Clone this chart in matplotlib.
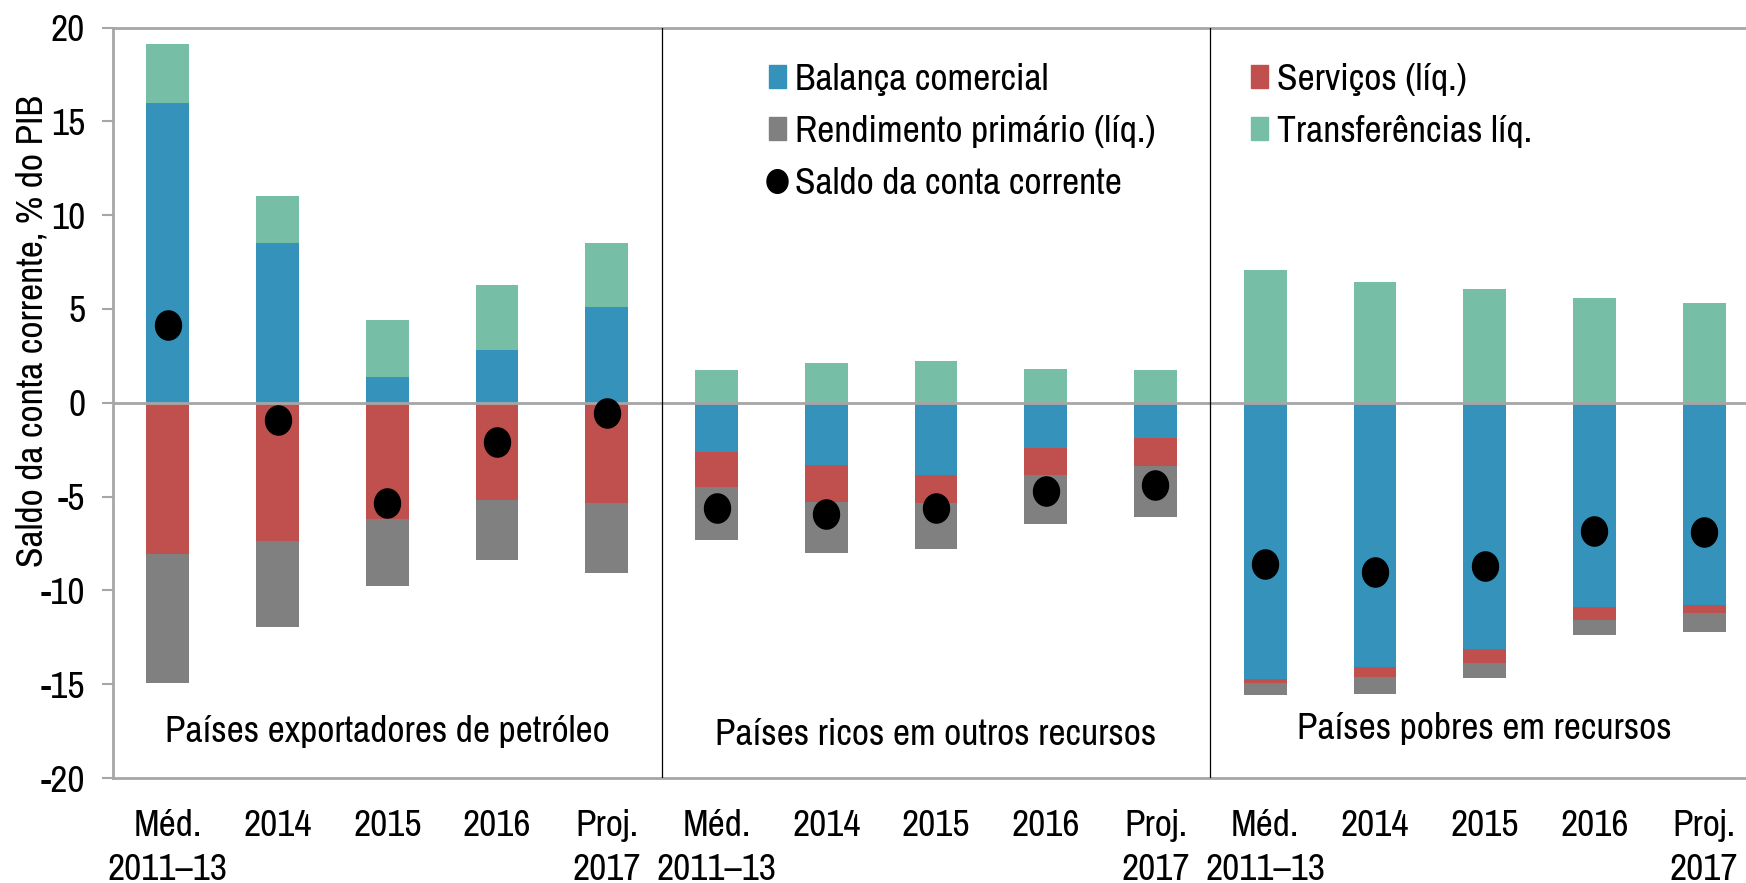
import numpy as np
import matplotlib
matplotlib.use("Agg")
import matplotlib.pyplot as plt
from matplotlib import font_manager
from matplotlib.path import Path
from matplotlib.patches import Patch
from matplotlib.lines import Line2D

# ── Data (% do PIB) ───────────────────────────────────────────────────────────
periods = ["Méd.\n2011–13", "2014", "2015", "2016", "Proj.\n2017"]
groups = ["Países exportadores de petróleo",
          "Países ricos em outros recursos",
          "Países pobres em recursos"]

balanca = [16.0, 8.5, 1.35, 2.8, 5.1,
           -2.6, -3.3, -3.85, -2.4, -1.9,
           -14.75, -14.1, -13.1, -10.9, -10.8]
servicos = [-8.05, -7.35, -6.2, -5.2, -5.35,
            -1.9, -2.0, -1.5, -1.45, -1.45,
            -0.2, -0.5, -0.75, -0.7, -0.4]
rendimento = [-6.9, -4.6, -3.55, -3.2, -3.75,
              -2.8, -2.7, -2.45, -2.6, -2.75,
              -0.65, -0.9, -0.8, -0.8, -1.0]
transferencias = [3.1, 2.5, 3.05, 3.5, 3.4,
                  1.75, 2.1, 2.2, 1.8, 1.75,
                  7.05, 6.45, 6.05, 5.6, 5.3]
saldo = [4.15, -0.9, -5.35, -2.1, -0.55,
         -5.6, -5.95, -5.6, -4.7, -4.4,
         -8.6, -9.0, -8.7, -6.85, -6.9]

# ── Style ─────────────────────────────────────────────────────────────────────
BLUE  = "#3593bb"
RED   = "#c0504d"
GRAY  = "#808080"
GREEN = "#77bea6"
AXIS_GRAY = "#a6a6a6"

# narrow sans, like the Arial Narrow of the original
names = {f.name for f in font_manager.fontManager.ttflist}
FONT, FS = "Liberation Sans", 22
for cand in ["Liberation Sans Narrow", "Arimo Narrow", "Archivo Narrow",
             "PT Sans Narrow", "Roboto Condensed", "Pragati Narrow",
             "Open Sans Condensed"]:
    if cand in names:
        FONT, FS = cand, 27
        break
plt.rcParams["font.family"] = [FONT, "DejaVu Sans"]
plt.rcParams["axes.unicode_minus"] = False

t = np.linspace(0, 2 * np.pi, 64)
ELLIPSE = Path(np.column_stack([0.89 * np.cos(t), np.sin(t)]))

fig = plt.figure(figsize=(17.46, 8.83), dpi=100)
ax = fig.add_axes([113 / 1746, 105 / 883, 1646 / 1746, 750.5 / 883])

x = np.arange(len(balanca))
pos_base = np.zeros(len(x))
neg_base = np.zeros(len(x))
for series, color in [(balanca, BLUE), (servicos, RED),
                      (rendimento, GRAY), (transferencias, GREEN)]:
    v = np.array(series)
    base = np.where(v >= 0, pos_base, neg_base)
    ax.bar(x, v, bottom=base, width=0.39, color=color, zorder=2)
    pos_base += np.where(v >= 0, v, 0)
    neg_base += np.where(v < 0, v, 0)

ax.plot(x, saldo, linestyle="none", marker=ELLIPSE, markersize=21,
        color="black", zorder=4)

ax.axhline(0, color=AXIS_GRAY, lw=2, zorder=3)
for sep in (4.5, 9.5):
    ax.axvline(sep, color="black", lw=0.9, zorder=3)

for i, (name, yb) in enumerate(zip(groups, [-18.1, -18.25, -17.9])):
    ax.text(2 + 5 * i, yb, name, ha="center", va="baseline", fontsize=FS)

ax.set_xlim(-0.5, 14.5)
ax.set_ylim(-20, 20)
ax.set_yticks(np.arange(-20, 21, 5))
ax.set_xticks(x)
ax.set_xticklabels(periods * 3, fontsize=FS, linespacing=1.42)
ax.tick_params(axis="x", length=0, pad=22)
ax.tick_params(axis="y", labelsize=FS, length=8, width=1.5,
               color=AXIS_GRAY, pad=12)

for side in ("left", "top", "bottom", "right"):
    ax.spines[side].set_color(AXIS_GRAY)
    ax.spines[side].set_linewidth(2)

ax.set_ylabel("Saldo da conta corrente, % do PIB", fontsize=FS)
ax.yaxis.set_label_coords(-0.039, 0.596)

# ── Legend ────────────────────────────────────────────────────────────────────
left_handles = [
    Patch(color=BLUE, label="Balança comercial"),
    Patch(color=GRAY, label="Rendimento primário (líq.)"),
    Line2D([], [], linestyle="none", marker=ELLIPSE, markersize=17,
           color="black", label="Saldo da conta corrente"),
]
right_handles = [
    Patch(color=RED, label="Serviços (líq.)"),
    Patch(color=GREEN, label="Transferências líq."),
]
common = dict(frameon=False, fontsize=FS, loc="upper left", borderpad=0,
              borderaxespad=0, handlelength=0.45, handleheight=0.56,
              handletextpad=0.25, labelspacing=0.5)
fig.legend(handles=left_handles,
           bbox_to_anchor=(769 / 1746, 1 - 63 / 883), **common)
fig.legend(handles=right_handles,
           bbox_to_anchor=(1251 / 1746, 1 - 63 / 883), **common)

fig.savefig("out.png", dpi=100)
plt.close(fig)
